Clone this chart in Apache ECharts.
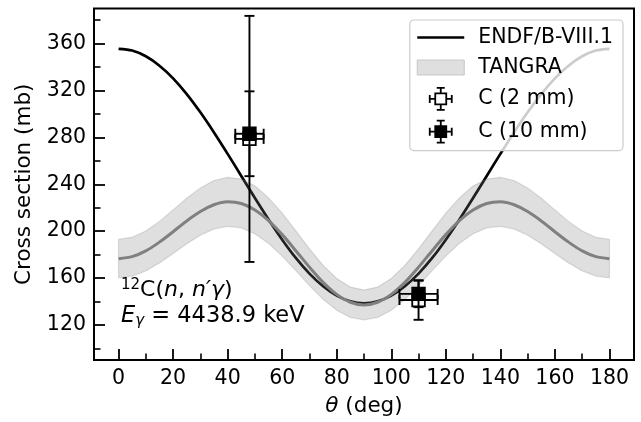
<!DOCTYPE html>
<html><head><meta charset="utf-8">
<script src="https://cdn.jsdelivr.net/npm/echarts@6/dist/echarts.min.js"></script>
<style>html,body{margin:0;padding:0;background:#fff}#c{width:641px;height:422px}</style>
</head><body><div id="c"></div>
<script>
// ---- data ----
const angles = [0,5,10,15,20,25,30,35,40,45,50,55,60,65,70,75,80,85,90,95,100,105,110,115,120,125,130,135,140,145,150,155,160,165,170,175,180];
const endf = [355.6,354.1,349.2,341.2,330.4,317.0,301.4,284.2,265.9,247.1,228.2,209.9,192.7,177.1,163.7,152.9,144.9,140.0,138.3,140.0,144.9,152.9,163.7,177.1,192.7,209.9,228.2,247.1,265.9,284.2,301.4,317.0,330.4,341.2,349.2,354.1,355.6];
const tangra = [176.5,178.2,183.1,190.6,199.5,208.7,216.7,222.5,225.0,223.6,218.1,209.0,197.0,183.3,169.2,156.3,146.0,139.3,137.0,139.3,146.0,156.3,169.2,183.3,197.0,209.0,218.1,223.6,225.0,222.5,216.7,208.7,199.5,190.6,183.1,178.2,176.5];
const tangraLow = [160.1,161.6,166.1,172.9,180.9,189.3,196.5,201.8,204.1,202.8,197.8,189.6,178.7,166.3,153.5,141.8,132.4,126.3,124.3,126.3,132.4,141.8,153.5,166.3,178.7,189.6,197.8,202.8,204.1,201.8,196.5,189.3,180.9,172.9,166.1,161.6,160.1];
const tangraHigh = [192.9,194.8,200.1,208.3,218.1,228.1,236.9,243.2,245.9,244.4,238.4,228.4,215.3,200.3,184.9,170.8,159.6,152.2,149.7,152.2,159.6,170.8,184.9,200.3,215.3,228.4,238.4,244.4,245.9,243.2,236.9,228.1,218.1,208.3,200.1,194.8,192.9];
const c2Theta = [48, 110];
const c2Value = [278.7, 141.2];
const c2ThetaErr = [5.2, 7.0];
const c2ValueErr = [105.0, 16.9];
const c10Theta = [48, 110];
const c10Value = [283.1, 146.4];
const c10ThetaErr = [5.2, 7.0];
const c10ValueErr = [36.2, 11.3];
const xMajor = [0,20,40,60,80,100,120,140,160,180];
const xMinor = [10,30,50,70,90,110,130,150,170];
const yMajor = [120,160,200,240,280,320,360];
const yMinor = [100,140,180,220,260,300,340,380];

const FONT = 'DejaVu Sans';
const FS = 20.5;
const chart = echarts.init(document.getElementById('c'), null, {renderer:'canvas'});

function errSeries(name, th, val, thErr, valErr, filled, z) {
  return {
    type: 'custom', name: name, z: z, silent: true, clip: false,
    data: th.map((t, i) => [t, val[i], thErr[i], valErr[i]]),
    renderItem: function (params, api) {
      const x = api.value(0), y = api.value(1), dx = api.value(2), dy = api.value(3);
      const c = api.coord([x, y]);
      const l = api.coord([x - dx, y]), r = api.coord([x + dx, y]);
      const t = api.coord([x, y + dy]), b = api.coord([x, y - dy]);
      const cap = 5, ms = 6.3;
      const ls = {stroke: '#000', lineWidth: 1.9};
      return {type: 'group', children: [
        {type: 'line', shape: {x1: l[0], y1: c[1], x2: r[0], y2: c[1]}, style: ls},
        {type: 'line', shape: {x1: c[0], y1: t[1], x2: c[0], y2: b[1]}, style: ls},
        {type: 'line', shape: {x1: l[0], y1: c[1] - cap, x2: l[0], y2: c[1] + cap}, style: ls},
        {type: 'line', shape: {x1: r[0], y1: c[1] - cap, x2: r[0], y2: c[1] + cap}, style: ls},
        {type: 'line', shape: {x1: c[0] - cap, y1: t[1], x2: c[0] + cap, y2: t[1]}, style: ls},
        {type: 'line', shape: {x1: c[0] - cap, y1: b[1], x2: c[0] + cap, y2: b[1]}, style: ls},
        {type: 'rect', shape: {x: c[0] - ms, y: c[1] - ms, width: 2 * ms, height: 2 * ms},
          style: {fill: filled ? '#000' : '#fff', stroke: '#000', lineWidth: 1.8}}
      ]};
    }
  };
}

const errIcon = 'path://M5.5,5.5h11v11h-11z M0,11h5.5 M16.5,11h5.5 M11,0v5.5 M11,16.5v5.5 M0,7v8 M22,7v8 M7,0h8 M7,22h8';

const option = {
  animation: false,
  backgroundColor: '#fff',
  grid: {left: 94, right: 7, top: 8.5, bottom: 62, show: true, borderColor: '#000', borderWidth: 2, backgroundColor: 'transparent', z: 10},
  xAxis: [
    {
      type: 'value', min: -9, max: 189, position: 'bottom',
      axisLine: {show: false, onZero: false}, splitLine: {show: false},
      axisTick: {show: true, inside: true, length: 11, lineStyle: {color: '#000', width: 1.8}, customValues: xMajor},
      axisLabel: {show: true, margin: 8, fontSize: FS, color: '#000', fontFamily: FONT, customValues: xMajor},
      name: '{i|θ} (deg)', nameLocation: 'middle', nameGap: 35,
      nameTextStyle: {fontSize: 21.5, color: '#000', fontFamily: FONT, rich: {i: {fontSize: 21.5, fontStyle: 'italic', fontFamily: FONT, color: '#000'}}}
    },
    {
      type: 'value', min: -9, max: 189, position: 'bottom',
      axisLine: {show: false, onZero: false}, splitLine: {show: false},
      axisTick: {show: true, inside: true, length: 6.5, lineStyle: {color: '#000', width: 1.6}, customValues: xMinor},
      axisLabel: {show: false, customValues: xMinor}
    }
  ],
  yAxis: [
    {
      type: 'value', min: 90, max: 390, position: 'left',
      axisLine: {show: false, onZero: false}, splitLine: {show: false},
      axisTick: {show: true, inside: true, length: 11, lineStyle: {color: '#000', width: 1.8}, customValues: yMajor},
      axisLabel: {show: true, margin: 8, fontSize: FS, color: '#000', fontFamily: FONT, customValues: yMajor},
      name: 'Cross section (mb)', nameLocation: 'middle', nameGap: 59, nameRotate: 90,
      nameTextStyle: {fontSize: 21.5, color: '#000', fontFamily: FONT}
    },
    {
      type: 'value', min: 90, max: 390, position: 'left',
      axisLine: {show: false, onZero: false}, splitLine: {show: false},
      axisTick: {show: true, inside: true, length: 6.5, lineStyle: {color: '#000', width: 1.6}, customValues: yMinor},
      axisLabel: {show: false, customValues: yMinor}
    }
  ],
  legend: {
    orient: 'vertical', right: 18, top: 20, z: 20,
    selectedMode: false,
    itemWidth: 47, itemHeight: 22, itemGap: 9,
    padding: [7, 10, 7, 7],
    backgroundColor: 'rgba(255,255,255,0.8)', borderColor: '#cccccc', borderWidth: 1.2, borderRadius: 4,
    textStyle: {fontSize: FS, color: '#000', fontFamily: FONT, padding: [0, 0, 0, 9]},
    data: [
      {name: 'ENDF/B-VIII.1', icon: 'path://M0,0h47v2.6h-47z', itemStyle: {color: '#000', borderWidth: 0}},
      {name: 'TANGRA', icon: 'path://M0,0h47v15h-47z', itemStyle: {color: '#dfdfdf', borderColor: '#c7c7c7', borderWidth: 1}},
      {name: 'C (2 mm)', icon: errIcon, itemStyle: {color: '#fff', borderColor: '#000', borderWidth: 1.8}},
      {name: 'C (10 mm)', icon: errIcon, itemStyle: {color: '#000', borderColor: '#000', borderWidth: 1.8}}
    ]
  },
  series: [
    {
      type: 'line', name: 'ENDF/B-VIII.1', z: 3, silent: true,
      data: angles.map((a, i) => [a, endf[i]]),
      showSymbol: false, symbol: 'none', smooth: 0.3,
      lineStyle: {color: '#000', width: 2.7}, itemStyle: {color: '#000'}
    },
    {
      type: 'custom', name: 'TANGRA', z: 4, silent: true,
      data: [[0, 0]],
      renderItem: function (params, api) {
        const pts = [];
        for (let i = 0; i < angles.length; i++) pts.push(api.coord([angles[i], tangraHigh[i]]));
        for (let i = angles.length - 1; i >= 0; i--) pts.push(api.coord([angles[i], tangraLow[i]]));
        return {type: 'polygon', shape: {points: pts}, style: {fill: 'rgba(128,128,128,0.25)', stroke: 'rgba(128,128,128,0.25)', lineWidth: 1.2}};
      }
    },
    {
      type: 'line', name: 'TANGRA fit', z: 5, silent: true,
      data: angles.map((a, i) => [a, tangra[i]]),
      showSymbol: false, symbol: 'none', smooth: 0.3,
      lineStyle: {color: '#808080', width: 3}
    },
    errSeries('C (2 mm)', c2Theta, c2Value, c2ThetaErr, c2ValueErr, false, 6),
    errSeries('C (10 mm)', c10Theta, c10Value, c10ThetaErr, c10ValueErr, true, 7)
  ],
  graphic: [
    {
      type: 'text', left: 121, top: 278, z: 30, silent: true,
      style: {
        text: '{s|12}{r|C(}{i|n}{r|, }{i|n′γ}{r|)}',
        fill: '#000',
        rich: {
          s: {fontSize: 15, fontFamily: FONT, padding: [0, 0, 10, 0], fill: '#000'},
          r: {fontSize: 22, fontFamily: FONT, fill: '#000'},
          i: {fontSize: 22, fontFamily: FONT, fontStyle: 'italic', fill: '#000'}
        }
      }
    },
    {
      type: 'text', left: 121, top: 305, z: 30, silent: true,
      style: {
        text: '{i|E}{b|γ}{r| = 4438.9 keV}',
        fill: '#000',
        rich: {
          b: {fontSize: 15, fontFamily: FONT, fontStyle: 'italic', padding: [9, 0, 0, 0], fill: '#000'},
          r: {fontSize: 22.5, fontFamily: FONT, fill: '#000'},
          i: {fontSize: 22.5, fontFamily: FONT, fontStyle: 'italic', fill: '#000'}
        }
      }
    }
  ]
};
chart.setOption(option);
</script></body></html>
